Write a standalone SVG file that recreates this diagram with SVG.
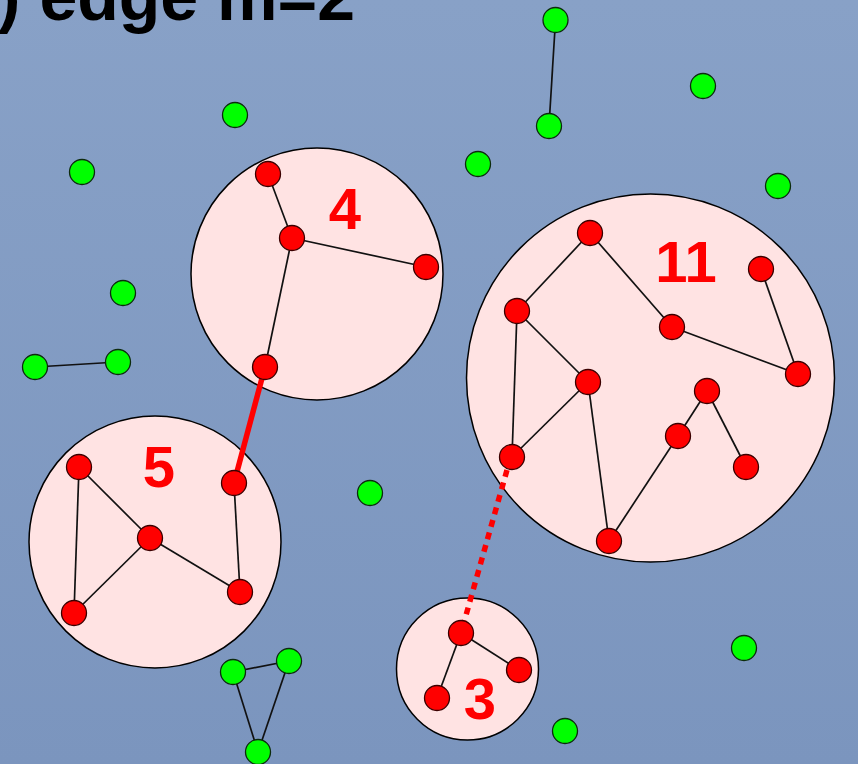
<svg xmlns="http://www.w3.org/2000/svg" width="858" height="764" viewBox="0 0 858 764">
  <defs>
    <linearGradient id="bg" x1="0" y1="0" x2="0" y2="1">
      <stop offset="0" stop-color="#88a1c7"/>
      <stop offset="1" stop-color="#7b95be"/>
    </linearGradient>
    <style>
      .title { font-family: "Liberation Sans", Arial, sans-serif; font-weight: bold; font-size: 68px; fill: #000; }
      .cluster { fill: #ffe3e3; stroke: #000; stroke-width: 1.5; }
      .count { font-family: "Liberation Sans", Arial, sans-serif; font-weight: bold; font-size: 58px; fill: #ff0000; text-anchor: middle; }
      .edge { stroke: #111; stroke-width: 1.7; fill: none; }
      .red { fill: #ff0000; stroke: #3a0000; stroke-width: 1.3; }
      .green { fill: #00ff00; stroke: #0d2a0d; stroke-width: 1.3; }
      .link { stroke: #ff0000; stroke-width: 5.5; fill: none; }
      .link-dotted { stroke: #ff0000; stroke-width: 5.5; fill: none; stroke-dasharray: 7 6; }
    </style>
  </defs>

  <rect x="0" y="0" width="858" height="764" fill="url(#bg)"/>

  <text class="title" x="355" y="20" text-anchor="end">) edge m=2</text>

  <!-- cluster outlines -->
  <g id="cluster-4">
    <circle class="cluster" cx="317" cy="274" r="126"/>
    <text class="count" x="345" y="229">4</text>
  </g>
  <g id="cluster-11">
    <circle class="cluster" cx="650.5" cy="378" r="184"/>
    <text class="count" x="686" y="282">11</text>
  </g>
  <g id="cluster-5">
    <circle class="cluster" cx="155" cy="542" r="126"/>
    <text class="count" x="159" y="487">5</text>
  </g>
  <g id="cluster-3">
    <circle class="cluster" cx="467.5" cy="669" r="71"/>
    <text class="count" x="480" y="719">3</text>
  </g>

  <!-- connectors -->
  <g id="edges">
    <!-- cluster 4 -->
    <line class="edge" x1="268" y1="174" x2="292" y2="238"/>
    <line class="edge" x1="292" y1="238" x2="426" y2="267"/>
    <line class="edge" x1="292" y1="238" x2="265" y2="367"/>
    <!-- cluster 11 -->
    <line class="edge" x1="590" y1="233" x2="517" y2="311"/>
    <line class="edge" x1="590" y1="233" x2="672" y2="327"/>
    <line class="edge" x1="672" y1="327" x2="798" y2="374"/>
    <line class="edge" x1="761" y1="269" x2="798" y2="374"/>
    <line class="edge" x1="517" y1="311" x2="588" y2="382"/>
    <line class="edge" x1="517" y1="311" x2="512" y2="457"/>
    <line class="edge" x1="588" y1="382" x2="512" y2="457"/>
    <line class="edge" x1="588" y1="382" x2="609" y2="541"/>
    <line class="edge" x1="609" y1="541" x2="678" y2="436"/>
    <line class="edge" x1="678" y1="436" x2="707" y2="391"/>
    <line class="edge" x1="707" y1="391" x2="746" y2="467"/>
    <!-- cluster 5 -->
    <line class="edge" x1="79" y1="467" x2="150" y2="538"/>
    <line class="edge" x1="79" y1="467" x2="74" y2="613"/>
    <line class="edge" x1="150" y1="538" x2="74" y2="613"/>
    <line class="edge" x1="150" y1="538" x2="240" y2="592"/>
    <line class="edge" x1="234" y1="483" x2="240" y2="592"/>
    <!-- cluster 3 -->
    <line class="edge" x1="461" y1="633" x2="519" y2="670"/>
    <line class="edge" x1="461" y1="633" x2="437" y2="698"/>
    <!-- green components -->
    <line class="edge" x1="555.5" y1="20" x2="549" y2="126"/>
    <line class="edge" x1="35" y1="367" x2="118" y2="362"/>
    <line class="edge" x1="233" y1="672" x2="289" y2="661"/>
    <line class="edge" x1="233" y1="672" x2="258" y2="752"/>
    <line class="edge" x1="289" y1="661" x2="258" y2="752"/>
    <!-- links between clusters -->
    <line class="link" x1="265" y1="367" x2="234" y2="483"/>
    <line class="link-dotted" x1="507" y1="470" x2="461" y2="633"/>
  </g>

  <!-- red vertices -->
  <g id="red-nodes">
    <circle class="red" cx="268" cy="174" r="12.5"/>
    <circle class="red" cx="292" cy="238" r="12.5"/>
    <circle class="red" cx="426" cy="267" r="12.5"/>
    <circle class="red" cx="265" cy="367" r="12.5"/>

    <circle class="red" cx="590" cy="233" r="12.5"/>
    <circle class="red" cx="517" cy="311" r="12.5"/>
    <circle class="red" cx="672" cy="327" r="12.5"/>
    <circle class="red" cx="761" cy="269" r="12.5"/>
    <circle class="red" cx="798" cy="374" r="12.5"/>
    <circle class="red" cx="588" cy="382" r="12.5"/>
    <circle class="red" cx="707" cy="391" r="12.5"/>
    <circle class="red" cx="678" cy="436" r="12.5"/>
    <circle class="red" cx="746" cy="467" r="12.5"/>
    <circle class="red" cx="512" cy="457" r="12.5"/>
    <circle class="red" cx="609" cy="541" r="12.5"/>

    <circle class="red" cx="79" cy="467" r="12.5"/>
    <circle class="red" cx="150" cy="538" r="12.5"/>
    <circle class="red" cx="74" cy="613" r="12.5"/>
    <circle class="red" cx="234" cy="483" r="12.5"/>
    <circle class="red" cx="240" cy="592" r="12.5"/>

    <circle class="red" cx="461" cy="633" r="12.5"/>
    <circle class="red" cx="519" cy="670" r="12.5"/>
    <circle class="red" cx="437" cy="698" r="12.5"/>
  </g>

  <!-- green vertices -->
  <g id="green-nodes">
    <circle class="green" cx="555.5" cy="20" r="12.5"/>
    <circle class="green" cx="549" cy="126" r="12.5"/>
    <circle class="green" cx="703" cy="86" r="12.5"/>
    <circle class="green" cx="235" cy="115" r="12.5"/>
    <circle class="green" cx="478" cy="164" r="12.5"/>
    <circle class="green" cx="82" cy="172" r="12.5"/>
    <circle class="green" cx="778" cy="186" r="12.5"/>
    <circle class="green" cx="123" cy="293" r="12.5"/>
    <circle class="green" cx="35" cy="367" r="12.5"/>
    <circle class="green" cx="118" cy="362" r="12.5"/>
    <circle class="green" cx="370" cy="493" r="12.5"/>
    <circle class="green" cx="744" cy="648" r="12.5"/>
    <circle class="green" cx="565" cy="731" r="12.5"/>
    <circle class="green" cx="233" cy="672" r="12.5"/>
    <circle class="green" cx="289" cy="661" r="12.5"/>
    <circle class="green" cx="258" cy="752" r="12.5"/>
  </g>
</svg>
